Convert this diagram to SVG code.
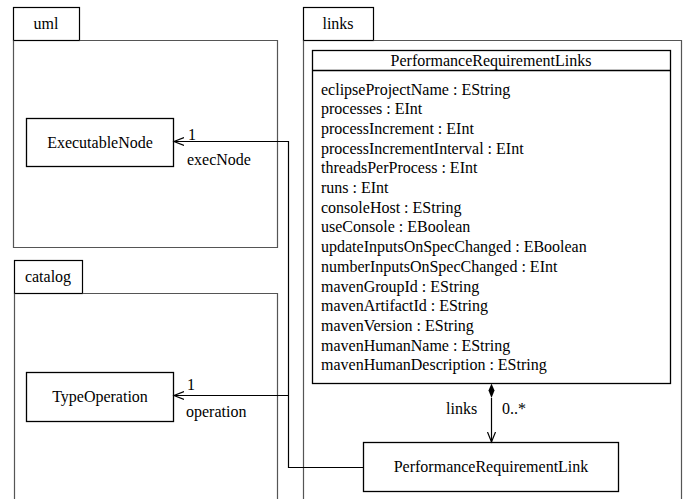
<svg xmlns="http://www.w3.org/2000/svg" width="683" height="499" viewBox="0 0 683 499">
  <style>
    text { font-family: "Liberation Serif", "Times New Roman", serif; font-size: 16px; fill: #000; }
    .mid { text-anchor: middle; }
    .tab { fill: #fff; stroke: #000; stroke-width: 1.2; }
    .pkg { fill: none; stroke: #555; stroke-width: 1.2; }
    .cls { fill: #fff; stroke: #000; stroke-width: 1.3; }
    .edge { fill: none; stroke: #000; stroke-width: 1.2; }
  </style>
  <defs>
    <marker id="open" markerWidth="12" markerHeight="12" refX="10" refY="5" orient="auto" markerUnits="userSpaceOnUse">
      <path d="M0,1 L10,5 L0,9" fill="none" stroke="#000" stroke-width="1.2"/>
    </marker>
  </defs>

  <!-- packages -->
  <g id="pkg-uml">
    <rect class="tab" x="13.5" y="7.5" width="66" height="33"/>
    <path class="pkg" d="M79.5,40.5 H277.5 V247.5 H13.5 V40.5"/>
    <text class="mid" x="46" y="29">uml</text>
  </g>
  <g id="pkg-catalog">
    <rect class="tab" x="14.5" y="260.5" width="68" height="33"/>
    <path class="pkg" d="M82.5,293.5 H277.5 V505 M14.5,505 V293.5"/>
    <text class="mid" x="48" y="282">catalog</text>
  </g>
  <g id="pkg-links">
    <rect class="tab" x="303.5" y="7.5" width="70" height="33"/>
    <path class="pkg" d="M373.5,40.5 H681.5 V505 M303.5,505 V40.5"/>
    <text class="mid" x="338" y="29">links</text>
  </g>

  <!-- classes -->
  <g id="ExecutableNode">
    <rect class="cls" x="26.5" y="118.5" width="147" height="48"/>
    <text class="mid" x="100" y="148">ExecutableNode</text>
  </g>
  <g id="TypeOperation">
    <rect class="cls" x="26.5" y="372.5" width="147" height="49"/>
    <text class="mid" x="100" y="402">TypeOperation</text>
  </g>
  <g id="PerformanceRequirementLinks">
    <rect class="cls" x="312.5" y="50.5" width="358" height="333"/>
    <line class="cls" x1="312.5" y1="70.5" x2="670.5" y2="70.5"/>
    <text class="mid" x="491" y="66">PerformanceRequirementLinks</text>
    <text x="321" y="94.5">eclipseProjectName : EString</text>
    <text x="321" y="114.2">processes : EInt</text>
    <text x="321" y="133.9">processIncrement : EInt</text>
    <text x="321" y="153.6">processIncrementInterval : EInt</text>
    <text x="321" y="173.3">threadsPerProcess : EInt</text>
    <text x="321" y="193">runs : EInt</text>
    <text x="321" y="212.7">consoleHost : EString</text>
    <text x="321" y="232.4">useConsole : EBoolean</text>
    <text x="321" y="252.1">updateInputsOnSpecChanged : EBoolean</text>
    <text x="321" y="271.8">numberInputsOnSpecChanged : EInt</text>
    <text x="321" y="291.5">mavenGroupId : EString</text>
    <text x="321" y="311.2">mavenArtifactId : EString</text>
    <text x="321" y="330.9">mavenVersion : EString</text>
    <text x="321" y="350.6">mavenHumanName : EString</text>
    <text x="321" y="370.3">mavenHumanDescription : EString</text>
  </g>
  <g id="PerformanceRequirementLink">
    <rect class="cls" x="363.5" y="442.5" width="255" height="49"/>
    <text class="mid" x="491" y="472">PerformanceRequirementLink</text>
  </g>

  <!-- connectors -->
  <g id="connectors">
    <path class="edge" d="M363.5,467.5 H288.5 V141.5 H174" marker-end="url(#open)"/>
    <path class="edge" d="M288.5,395.5 H174" marker-end="url(#open)"/>
    <path class="edge" d="M491.5,398 V442" marker-end="url(#open)"/>
    <path d="M491.5,383.5 L494.5,390.5 L491.5,398 L488.5,390.5 Z" fill="#000"/>
    <text x="188" y="140">1</text>
    <text x="187" y="165">execNode</text>
    <text x="187" y="390">1</text>
    <text x="186" y="417">operation</text>
    <text x="446" y="414">links</text>
    <text x="502" y="414">0..*</text>
  </g>
</svg>
